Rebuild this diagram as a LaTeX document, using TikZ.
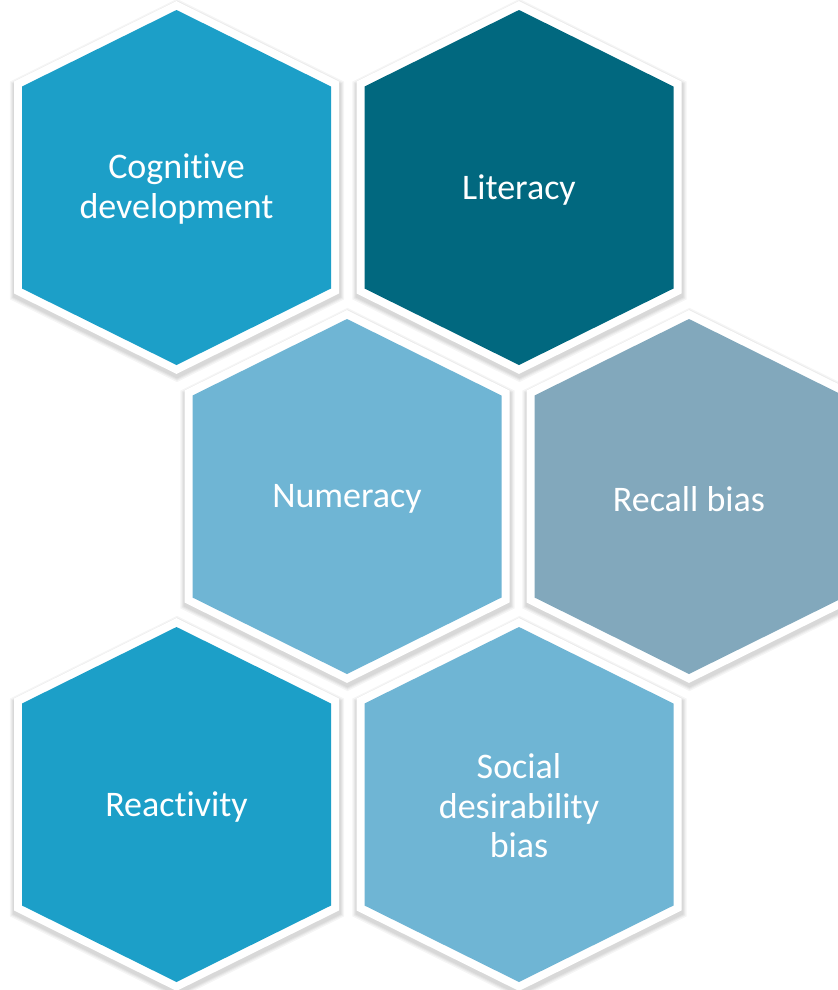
\documentclass[tikz,border=0pt]{standalone}
\usepackage{fontspec}
\setmainfont[Ligatures={NoCommon,NoRare}]{Carlito}
\definecolor{cA}{HTML}{1C9FC8}
\definecolor{cB}{HTML}{01687F}
\definecolor{cC}{HTML}{6FB5D4}
\definecolor{cD}{HTML}{82A8BC}
\newcommand\myhex[2]{(#1-154.5,#2-101) -- (#1,#2-177.5) -- (#1+154.5,#2-101) -- (#1+154.5,#2+101) -- (#1,#2+177.5) -- (#1-154.5,#2+101) -- cycle}
\tikzset{
  lab/.style={align=center, text=white, font=\fontsize{27}{29.6}\selectfont, inner sep=0pt},
  shad/.style={draw=black, line join=miter, draw opacity=0.04, fill=black, fill opacity=0.04},
  rim/.style={draw=white, fill=white, line width=12pt, line join=miter}
}
\begin{document}
\begin{tikzpicture}[x=0.75pt,y=-0.75pt]
\useasboundingbox (0,0) rectangle (838,990);
\clip (0,0) rectangle (838,990);
\fill[white] (0,0) rectangle (838,990);
% shadows
\foreach \cx/\cy in {176.5/187.5, 519/187.5, 347/496.5, 689/496.5, 176.5/804.5, 519/804.5}{
  \foreach \w in {19,17,15.5,14}{
    \draw[shad, line width=\w pt, shift={(0.5,3)}] \myhex{\cx}{\cy};
  }
}
% white rims
\foreach \cx/\cy in {176.5/187.5, 519/187.5, 347/496.5, 689/496.5, 176.5/804.5, 519/804.5}{
  \draw[rim] \myhex{\cx}{\cy};
}
% fills
\foreach \cx/\cy/\c in {176.5/187.5/cA, 519/187.5/cB, 347/496.5/cC, 689/496.5/cD, 176.5/804.5/cA, 519/804.5/cC}{
  \fill[\c] \myhex{\cx}{\cy};
}
\node[lab] (cog) at (176.5,189) {Cognitive\\development};
\node[lab] (lit) at (519,190) {Literacy};
\node[lab] (num) at (347,499) {Numeracy};
\node[lab] (rec) at (689,499) {Recall bias};
\node[lab] (rea) at (176.5,807) {Reactivity};
\node[lab] (soc) at (519,806) {Social\\desirability\\bias};
\end{tikzpicture}
\end{document}
